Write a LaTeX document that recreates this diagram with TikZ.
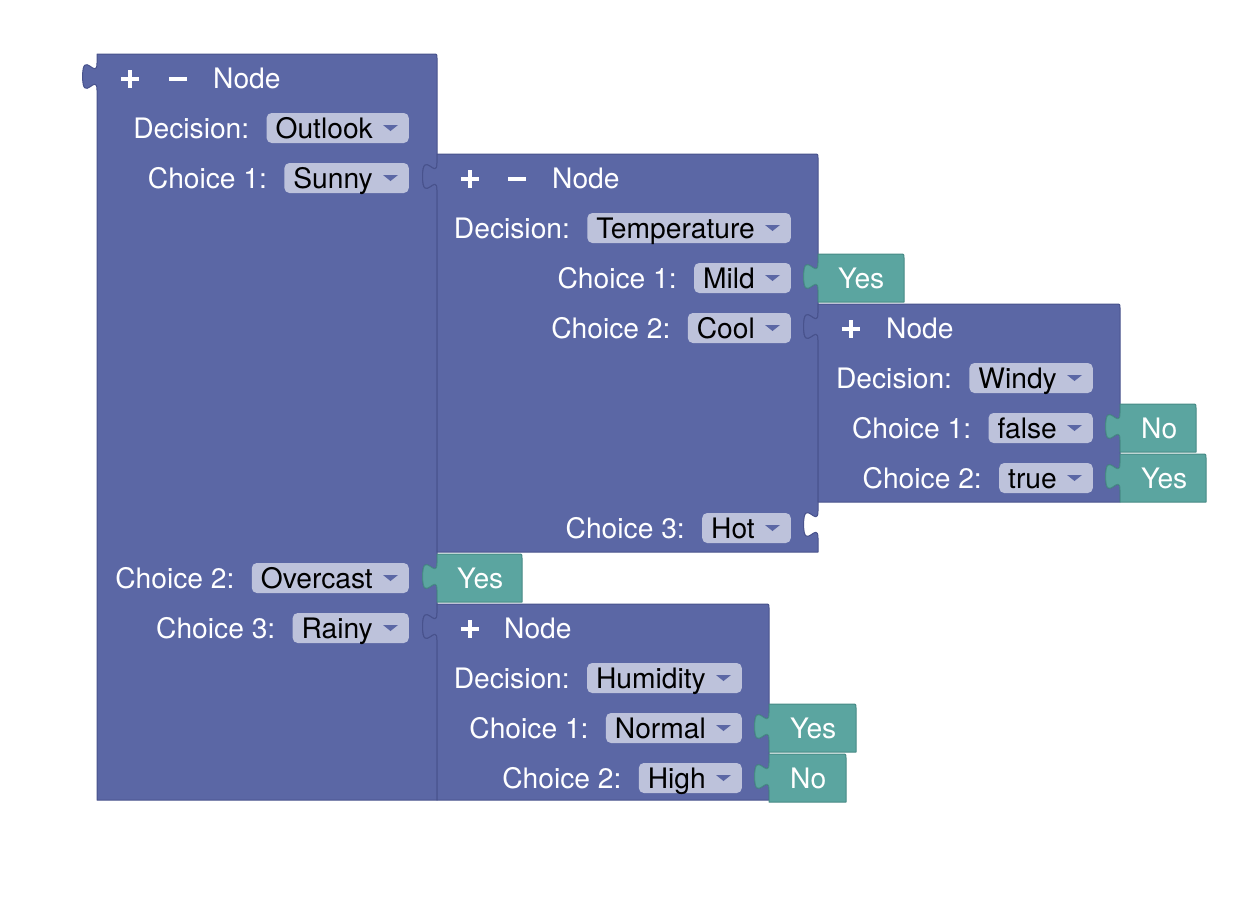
\documentclass[tikz,border=0pt]{standalone}
\usepackage{fontspec}
\setmainfont{TeX Gyre Heros}
\definecolor{blk}{HTML}{5B67A5}
\definecolor{blkdark}{HTML}{48528C}
\definecolor{tealb}{HTML}{5BA5A0}
\definecolor{tealdark}{HTML}{478A85}
\definecolor{ddbg}{HTML}{BDC2DB}
\tikzset{
  notch/.style 2 args={insert path={ -- (#1,#2+9) .. controls (#1,#2+27) and (#1-14.4,#2-5.4) .. (#1-14.4,#2+22.5) .. controls (#1-14.4,#2+50.4) and (#1,#2+18) .. (#1,#2+36)}},
  tabup/.style 2 args={insert path={ -- (#1,#2+36) .. controls (#1,#2+18) and (#1-14.4,#2+50.4) .. (#1-14.4,#2+22.5) .. controls (#1-14.4,#2-5.4) and (#1,#2+27) .. (#1,#2+9)}},
  blockfill/.style={fill=blk, draw=blkdark, line width=1pt, line join=round},
  tealfill/.style={fill=tealb, draw=tealdark, line width=1pt, line join=round},
  lbl/.style={text=white, font=\fontsize{28.2}{30}\selectfont, anchor=base east, inner sep=0pt},
  tlbl/.style={text=white, font=\fontsize{28.2}{30}\selectfont, anchor=base west, inner sep=0pt},
  ddn/.style={fill=ddbg, rounded corners=5pt, text=black, font=\fontsize{28.2}{30}\selectfont,
    inner xsep=0pt, inner ysep=2pt, text height=23pt, text depth=3pt, anchor=east},
  icon/.style={draw=white, line width=4.5pt},
}
\newcommand\ddfield[5]{%
  \node[ddn] (#1) at (#2,#3) {\hspace*{9pt}#5\hspace*{36pt}};
  \fill[blk] ([xshift=-26pt,yshift=3pt]#1.east) -- ++(15,0) -- ++(-7.5,6) -- cycle;
  \node[lbl] (#1l) at ([xshift=-17pt]#1.base west) {#4};
}
\newcommand\hdrplus[3]{% #1 name, #2 x left, #3 yc
  \draw[icon] (#2+24,#3+1) -- (#2+42,#3+1) (#2+33,#3-8) -- (#2+33,#3+10);
}
\begin{document}
\begin{tikzpicture}[x=1pt,y=-1pt]
\useasboundingbox (0,0) rectangle (1259,900);
% Outlook block
\path[blockfill] (97,54) -- (433,54) .. controls (437,54) .. (437,58)
  [notch={437}{154}] [notch={437}{554}] [notch={437}{604}]
  -- (437,800) -- (97,800) [tabup={97}{54}] -- cycle;
% Temperature block
\path[blockfill] (437,154) -- (814,154) .. controls (818,154) .. (818,158)
  [notch={818}{254}] [notch={818}{304}] [notch={818}{502}]
  -- (818,552) -- (437,552) [tabup={437}{154}] -- cycle;
% Yes (Mild)
\path[tealfill] (818,254) -- (900,254) .. controls (904,254) .. (904,258)
  -- (904,302) -- (818,302) [tabup={818}{254}] -- cycle;
% Windy block
\path[blockfill] (818,304) -- (1116,304) .. controls (1120,304) .. (1120,308)
  [notch={1120}{404}] [notch={1120}{454}]
  -- (1120,502) -- (818,502) [tabup={818}{304}] -- cycle;
% No (false)
\path[tealfill] (1120,404) -- (1192,404) .. controls (1196,404) .. (1196,408)
  -- (1196,452) -- (1120,452) [tabup={1120}{404}] -- cycle;
% Yes (true)
\path[tealfill] (1120,454) -- (1202,454) .. controls (1206,454) .. (1206,458)
  -- (1206,502) -- (1120,502) [tabup={1120}{454}] -- cycle;
% Yes (Overcast)
\path[tealfill] (437,554) -- (518,554) .. controls (522,554) .. (522,558)
  -- (522,602) -- (437,602) [tabup={437}{554}] -- cycle;
% Humidity block
\path[blockfill] (437,604) -- (765,604) .. controls (769,604) .. (769,608)
  [notch={769}{704}] [notch={769}{754}]
  -- (769,800) -- (437,800) [tabup={437}{604}] -- cycle;
% Yes (Normal)
\path[tealfill] (769,704) -- (852,704) .. controls (856,704) .. (856,708)
  -- (856,752) -- (769,752) [tabup={769}{704}] -- cycle;
% No (High)
\path[tealfill] (769,754) -- (842,754) .. controls (846,754) .. (846,758)
  -- (846,802) -- (769,802) [tabup={769}{754}] -- cycle;

% headers
\hdrplus{p1}{97}{78}
\draw[icon] (169,79) -- (187,79);
\node[tlbl] (h1) at (213,88) {Node};
\hdrplus{p2}{437}{178}
\draw[icon] (508,179) -- (526,179);
\node[tlbl] (h2) at (552,188) {Node};
\hdrplus{p3}{818}{328}
\node[tlbl] (h3) at (886,338) {Node};
\hdrplus{p4}{437}{628}
\node[tlbl] (h4) at (504,638) {Node};

% Outlook fields
\ddfield{a0}{409}{128}{Decision:}{Outlook}
\ddfield{a1}{409}{178}{Choice 1:}{Sunny}
\ddfield{a2}{409}{578}{Choice 2:}{Overcast}
\ddfield{a3}{409}{628}{Choice 3:}{Rainy}
% Temperature fields
\ddfield{b0}{791}{228}{Decision:}{Temperature}
\ddfield{b1}{791}{278}{Choice 1:}{Mild}
\ddfield{b2}{791}{328}{Choice 2:}{Cool}
\ddfield{b3}{791}{528}{Choice 3:}{Hot}
% Windy fields
\ddfield{c0}{1093}{378}{Decision:}{Windy}
\ddfield{c1}{1093}{428}{Choice 1:}{false}
\ddfield{c2}{1093}{478}{Choice 2:}{true}
% Humidity fields
\ddfield{e0}{742}{678}{Decision:}{Humidity}
\ddfield{e1}{742}{728}{Choice 1:}{Normal}
\ddfield{e2}{742}{778}{Choice 2:}{High}

% leaf texts
\node[tlbl] (t1) at (838,288) {Yes};
\node[tlbl] (t2) at (1141,438) {No};
\node[tlbl] (t3) at (1141,488) {Yes};
\node[tlbl] (t4) at (457,588) {Yes};
\node[tlbl] (t5) at (790,738) {Yes};
\node[tlbl] (t6) at (790,788) {No};
\end{tikzpicture}
\end{document}
